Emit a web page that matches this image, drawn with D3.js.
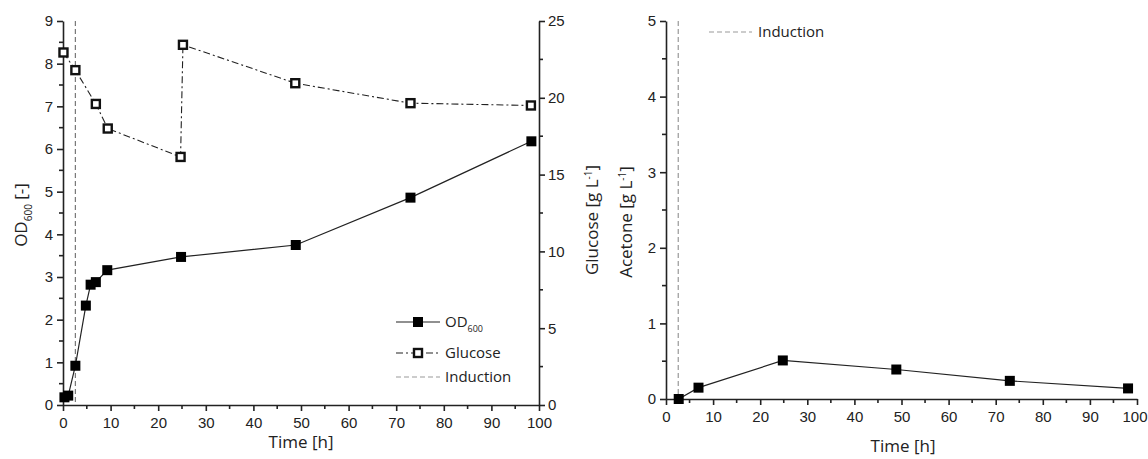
<!DOCTYPE html>
<html>
<head>
<meta charset="utf-8">
<script src="https://cdn.jsdelivr.net/npm/d3@7"></script>
<style>
  body { margin: 0; background: #fff; }
  svg { font-family: "Open Sans", "Noto Sans", sans-serif; }
  .axis path, .axis line { stroke: #222; stroke-width: 1.6; }
  .axis text { font-size: 15px; fill: #222; }
</style>
</head>
<body>
<div id="my_chart"></div>
<script>
// data
var odTime = [0.3, 1.1, 2.6, 4.8, 5.8, 6.9, 9.3, 24.8, 48.9, 73.0, 98.4];
var odValue = [0.18, 0.22, 0.92, 2.33, 2.82, 2.88, 3.16, 3.47, 3.75, 4.86, 6.18];
var gluTime = [0.1, 2.6, 6.9, 9.4, 24.7, 25.2, 48.8, 73.0, 98.3];
var gluValue = [22.95, 21.8, 19.6, 18.0, 16.15, 23.45, 20.95, 19.65, 19.5];
var aceTime = [2.7, 6.9, 24.8, 48.9, 73.0, 98.1];
var aceValue = [0.0, 0.15, 0.51, 0.39, 0.24, 0.14];
var induction = 2.6;
var xTicks = [0, 10, 20, 30, 40, 50, 60, 70, 80, 90, 100];
var odTicks = [0, 1, 2, 3, 4, 5, 6, 7, 8, 9];
var gluTicks = [0, 5, 10, 15, 20, 25];
var aceTicks = [0, 1, 2, 3, 4, 5];

var svg = d3.select("#my_chart").append("svg")
  .attr("width", 1148).attr("height", 459);

function minorTicks(g, scale, vals, orient, len) {
  // small ticks half way between the major ones
  for (var i = 0; i < vals.length - 1; i++) {
    var v = (vals[i] + vals[i + 1]) / 2, p = scale(v);
    if (orient == "bottom") g.append("line").attr("x1", p).attr("x2", p).attr("y1", 0).attr("y2", len);
    else if (orient == "left") g.append("line").attr("y1", p).attr("y2", p).attr("x1", 0).attr("x2", -len);
    else g.append("line").attr("y1", p).attr("y2", p).attr("x1", 0).attr("x2", len);
  }
  g.selectAll("line").attr("stroke", "#222").attr("stroke-width", 1.6);
}

// ---------- left panel ----------
var x1 = d3.scaleLinear().domain([0, 100]).range([63, 539]);
var yOD = d3.scaleLinear().domain([0, 9]).range([405, 21]);
var yGlu = d3.scaleLinear().domain([0, 25]).range([405, 21]);

var left = svg.append("g");

// induction line
left.append("line")
  .attr("x1", x1(induction)).attr("x2", x1(induction))
  .attr("y1", yOD(9)).attr("y2", yOD(0))
  .attr("stroke", "#777").attr("stroke-width", 1.2).attr("stroke-dasharray", "5,3");

var gx = left.append("g").attr("class", "axis").attr("transform", "translate(0,405)")
  .call(d3.axisBottom(x1).tickValues(xTicks).tickFormat(d3.format("d")).tickSize(6).tickSizeOuter(0));
gx.selectAll("text").attr("dy", "0.95em");
minorTicks(left.append("g").attr("transform", "translate(0,405)"), x1, xTicks, "bottom", 4);

var gy = left.append("g").attr("class", "axis").attr("transform", "translate(63,0)")
  .call(d3.axisLeft(yOD).tickValues(odTicks).tickFormat(d3.format("d")).tickSize(6).tickSizeOuter(0));
gy.selectAll("text").attr("x", -10);
minorTicks(left.append("g").attr("transform", "translate(63,0)"), yOD, odTicks, "left", 4);

var gr = left.append("g").attr("class", "axis").attr("transform", "translate(539,0)")
  .call(d3.axisRight(yGlu).tickValues(gluTicks).tickFormat(d3.format("d")).tickSize(6).tickSizeOuter(0));
gr.selectAll("text").attr("x", 9);
minorTicks(left.append("g").attr("transform", "translate(539,0)"), yGlu, gluTicks, "right", 4);

// glucose
var gluData = gluTime.map(function(t, i) { return {t: t, v: gluValue[i]}; });
left.append("path").datum(gluData)
  .attr("fill", "none").attr("stroke", "#222").attr("stroke-width", 1.1)
  .attr("stroke-dasharray", "7,3,2,3")
  .attr("d", d3.line().x(function(d) { return x1(d.t); }).y(function(d) { return yGlu(d.v); }));
left.selectAll(".glu").data(gluData).enter().append("rect")
  .attr("x", function(d) { return x1(d.t) - 4; })
  .attr("y", function(d) { return yGlu(d.v) - 4; })
  .attr("width", 8).attr("height", 8)
  .attr("fill", "#fff").attr("stroke", "#111").attr("stroke-width", 2.4);

// OD600
var odData = odTime.map(function(t, i) { return {t: t, v: odValue[i]}; });
left.append("path").datum(odData)
  .attr("fill", "none").attr("stroke", "#222").attr("stroke-width", 1.2)
  .attr("d", d3.line().x(function(d) { return x1(d.t); }).y(function(d) { return yOD(d.v); }));
left.selectAll(".od").data(odData).enter().append("rect")
  .attr("x", function(d) { return x1(d.t) - 5; })
  .attr("y", function(d) { return yOD(d.v) - 5; })
  .attr("width", 10).attr("height", 10).attr("fill", "#000");

// axis titles
left.append("text").attr("x", 301).attr("y", 448).attr("text-anchor", "middle")
  .style("font-size", "17px").attr("fill", "#222").text("Time [h]");
var t1 = left.append("text").attr("transform", "translate(27,215) rotate(-90)")
  .attr("text-anchor", "middle").style("font-size", "17px").attr("fill", "#222");
t1.append("tspan").text("OD");
t1.append("tspan").attr("dy", 5).style("font-size", "10px").text("600");
t1.append("tspan").attr("dy", -5).text(" [-]");
var t2 = left.append("text").attr("transform", "translate(598,220) rotate(-90)")
  .attr("text-anchor", "middle").style("font-size", "17px").attr("fill", "#222");
t2.append("tspan").text("Glucose [g L");
t2.append("tspan").attr("dy", -6).style("font-size", "10px").text("-1");
t2.append("tspan").attr("dy", 6).text("]");

// legend
var lg = left.append("g").attr("transform", "translate(396,0)");
lg.append("line").attr("x1", 0).attr("x2", 44).attr("y1", 322).attr("y2", 322).attr("stroke", "#222").attr("stroke-width", 1.2);
lg.append("rect").attr("x", 17).attr("y", 317).attr("width", 10).attr("height", 10).attr("fill", "#000");
var lt = lg.append("text").attr("x", 49).attr("y", 327).style("font-size", "15px").attr("fill", "#222");
lt.append("tspan").text("OD");
lt.append("tspan").attr("dy", 5).style("font-size", "9px").text("600");
lg.append("line").attr("x1", 0).attr("x2", 44).attr("y1", 353).attr("y2", 353).attr("stroke", "#222").attr("stroke-width", 1.1).attr("stroke-dasharray", "7,3,2,3");
lg.append("rect").attr("x", 18).attr("y", 349).attr("width", 8).attr("height", 8).attr("fill", "#fff").attr("stroke", "#111").attr("stroke-width", 2.4);
lg.append("text").attr("x", 49).attr("y", 358).style("font-size", "15px").attr("fill", "#222").text("Glucose");
lg.append("line").attr("x1", 0).attr("x2", 44).attr("y1", 377).attr("y2", 377).attr("stroke", "#999").attr("stroke-width", 1.2).attr("stroke-dasharray", "5,3");
lg.append("text").attr("x", 49).attr("y", 382).style("font-size", "15px").attr("fill", "#222").text("Induction");

// ---------- right panel ----------
var x2 = d3.scaleLinear().domain([0, 100]).range([666, 1137]);
var yAce = d3.scaleLinear().domain([0, 5]).range([399, 21]);
var right = svg.append("g");

right.append("line")
  .attr("x1", x2(induction)).attr("x2", x2(induction))
  .attr("y1", yAce(5)).attr("y2", yAce(0))
  .attr("stroke", "#999").attr("stroke-width", 1.2).attr("stroke-dasharray", "5,3");

var gx2 = right.append("g").attr("class", "axis").attr("transform", "translate(0,399)")
  .call(d3.axisBottom(x2).tickValues(xTicks).tickFormat(d3.format("d")).tickSize(6).tickSizeOuter(0));
gx2.selectAll("text").attr("dy", "0.95em");
// last label would run past the page edge
gx2.selectAll("text").filter(function(d) { return d == 100; }).attr("text-anchor", "end").attr("x", 10);
minorTicks(right.append("g").attr("transform", "translate(0,399)"), x2, xTicks, "bottom", 4);

var gy2 = right.append("g").attr("class", "axis").attr("transform", "translate(666,0)")
  .call(d3.axisLeft(yAce).tickValues(aceTicks).tickFormat(d3.format("d")).tickSize(6).tickSizeOuter(0));
gy2.selectAll("text").attr("x", -10);
minorTicks(right.append("g").attr("transform", "translate(666,0)"), yAce, aceTicks, "left", 4);

var aceData = aceTime.map(function(t, i) { return {t: t, v: aceValue[i]}; });
right.append("path").datum(aceData)
  .attr("fill", "none").attr("stroke", "#222").attr("stroke-width", 1.2)
  .attr("d", d3.line().x(function(d) { return x2(d.t); }).y(function(d) { return yAce(d.v); }));
right.selectAll(".ace").data(aceData).enter().append("rect")
  .attr("x", function(d) { return x2(d.t) - 5; })
  .attr("y", function(d) { return yAce(d.v) - 5; })
  .attr("width", 10).attr("height", 10).attr("fill", "#000");

right.append("text").attr("x", 903).attr("y", 452).attr("text-anchor", "middle")
  .style("font-size", "17px").attr("fill", "#222").text("Time [h]");
var t3 = right.append("text").attr("transform", "translate(632,222) rotate(-90)")
  .attr("text-anchor", "middle").style("font-size", "17px").attr("fill", "#222");
t3.append("tspan").text("Acetone [g L");
t3.append("tspan").attr("dy", -6).style("font-size", "10px").text("-1");
t3.append("tspan").attr("dy", 6).text("]");

right.append("line").attr("x1", 709).attr("x2", 752).attr("y1", 32).attr("y2", 32)
  .attr("stroke", "#999").attr("stroke-width", 1.2).attr("stroke-dasharray", "5,3");
right.append("text").attr("x", 758).attr("y", 37).style("font-size", "15px").attr("fill", "#222").text("Induction");
</script>
</body>
</html>
